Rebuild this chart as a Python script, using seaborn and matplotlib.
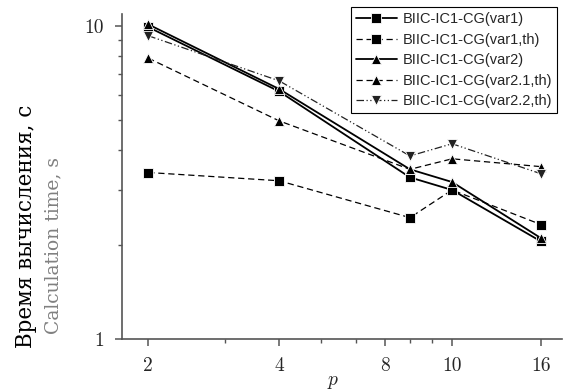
import numpy as np
import pandas as pd
import matplotlib
matplotlib.use("Agg")
import matplotlib.pyplot as plt
import seaborn as sns

# data
p = [2, 4, 8, 10, 16]
var1 = [9.9, 6.17, 3.28, 2.99, 2.05]
var1_th = [3.40, 3.20, 2.44, 2.99, 2.32]
var2 = [10.1, 6.28, 3.48, 3.17, 2.10]
var21_th = [7.88, 4.97, 3.48, 3.76, 3.55]
var22_th = [9.29, 6.67, 3.84, 4.20, 3.37]

names = ["BIIC-IC1-CG(var1)", "BIIC-IC1-CG(var1,th)", "BIIC-IC1-CG(var2)",
         "BIIC-IC1-CG(var2.1,th)", "BIIC-IC1-CG(var2.2,th)"]
x_ticks = [2, 4, 7, 10, 16]
x_ticklabels = ["2", "4", "8", "10", "16"]
x_minor = [3, 5, 6, 8, 9]

sns.set_style("ticks")
plt.rcParams['font.family'] = ['cmr10', 'DejaVu Serif']
plt.rcParams['mathtext.fontset'] = 'cm'
plt.rcParams['axes.formatter.use_mathtext'] = True

fig = plt.figure(figsize=(5.64, 3.91), dpi=100)
ax = fig.add_axes([122/564, 1 - 339/391, 440/564, 325/391])

styles = [
    dict(marker='s', linestyle='-', lw=1.3, ms=6.5, c='black'),
    dict(marker='s', linestyle=(0, (5, 3)), lw=0.9, ms=6.5, c='black'),
    dict(marker='^', linestyle='-', lw=1.3, ms=7.5, c='black'),
    dict(marker='^', linestyle=(0, (5, 3)), lw=0.9, ms=7.5, c='black'),
    dict(marker='v', linestyle=(0, (6, 2, 1, 2, 1, 2)), lw=0.9, ms=7.5, c='#222222'),
]
series = [var1, var1_th, var2, var21_th, var22_th]
for name, vals, st in zip(names, series, styles):
    sns.lineplot(x=p, y=vals, ax=ax, color=st['c'], label=name,
                 marker=st['marker'], linestyle=st['linestyle'], linewidth=st['lw'],
                 markersize=st['ms'], markeredgecolor='white', markeredgewidth=0.6)

ax.set_xscale('log')
ax.set_yscale('log')
ax.set_xlim(1.74, 17.9)
ax.set_ylim(1, 10.9)

ax.set_xticks(x_ticks)
ax.set_xticklabels(x_ticklabels)
ax.set_xticks(x_minor, minor=True)
ax.xaxis.set_minor_formatter(matplotlib.ticker.NullFormatter())
ax.set_yticks([1, 10])
ax.set_yticklabels(["1", "10"])
ax.set_yticks([2, 3, 4, 5, 6, 7, 8, 9], minor=True)
ax.yaxis.set_minor_formatter(matplotlib.ticker.NullFormatter())

for s in ['top', 'right']:
    ax.spines[s].set_visible(False)
for s in ['left', 'bottom']:
    ax.spines[s].set_color('#555555')
    ax.spines[s].set_linewidth(1.2)
ax.tick_params(which='major', length=5, width=1.1, color='#555555', labelsize=14, pad=8)
ax.tick_params(which='minor', length=3, width=1.0, color='#555555')

ax.set_xlabel('$p$', fontsize=14)
ax.xaxis.set_label_coords((333 - 122) / 440, -(382 - 339) / 325)
ax.xaxis.label.set_va('center')

# two-line y label: russian in black, english in grey
fig.text(26/564, 1 - 226/391, "Время вычисления, с", rotation=90, rotation_mode='anchor',
         ha='center', va='center', fontsize=15.5, color='black', family='DejaVu Serif')
fig.text(53/564, 1 - 246/391, "Calculation time, s", rotation=90, rotation_mode='anchor',
         ha='center', va='center', fontsize=13.5, color='#808080', family='DejaVu Serif')

leg = ax.legend(loc='upper right', bbox_to_anchor=(557/564, 1 - 7/391),
                bbox_transform=fig.transFigure, prop={'family': 'Liberation Sans', 'size': 10.5},
                handlelength=2.8, handletextpad=0.4, labelspacing=0.45, borderpad=0.35,
                borderaxespad=0, fancybox=False, framealpha=1)
leg.get_frame().set_edgecolor('black')
leg.get_frame().set_linewidth(0.8)

fig.savefig("out.png", dpi=100)
